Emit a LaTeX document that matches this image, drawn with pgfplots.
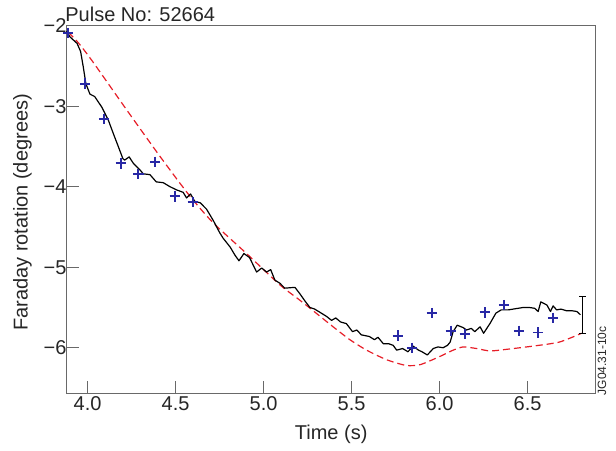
\documentclass[border=0pt]{standalone}
\usepackage{fontspec}
\setmainfont{Liberation Sans}
\usepackage{pgfplots}
\pgfplotsset{compat=1.18}
\definecolor{axgray}{RGB}{105,105,105}
\definecolor{plusblue}{RGB}{40,40,165}
\definecolor{dashred}{RGB}{230,30,40}
\begin{document}
\begin{tikzpicture}
\path[use as bounding box] (-66.7pt,-56.7pt) rectangle (549.3pt,393.3pt);
\begin{axis}[
  at={(0pt,0pt)}, anchor=south west,
  scale only axis, width=529pt, height=367.6pt,
  xmin=3.881, xmax=6.887, ymin=-6.566, ymax=-2,
  xtick={4,4.5,5,5.5,6,6.5},
  xticklabels={4.0,4.5,5.0,5.5,6.0,6.5},
  ytick={-6,-5,-4,-3,-2},
  yticklabels={−6,−5,−4,−3,−2},
  xtick pos=left, ytick pos=left,
  tick align=inside,
  major tick length=12pt,
  axis line style={axgray, line width=1.1pt},
  every tick/.style={axgray, line width=1.1pt},
  tick label style={font=\fontsize{20}{24}\selectfont, text=black!85},
  yticklabel style={xshift=3.3pt},
  label style={font=\fontsize{20}{24}\selectfont, text=black!85},
  xlabel={Time (s)},
  ylabel={Faraday rotation (degrees)},
  xlabel style={at={(axis description cs:0.5,-0.1124)}, anchor=center},
  ylabel style={at={(axis description cs:-0.0834,0.492)}, anchor=center},
  clip=false,
]
% red dashed model
\addplot[dashred, line width=1.2pt, dash pattern=on 7pt off 4pt, smooth, tension=0.4] coordinates {
(3.890,-2.08) (3.950,-2.22) (4.030,-2.45) (4.220,-3.04) (4.410,-3.62) (4.582,-4.12)
(4.714,-4.45) (4.903,-4.83) (5.093,-5.22) (5.200,-5.40) (5.264,-5.51) (5.395,-5.74)
(5.490,-5.90) (5.585,-6.03) (5.700,-6.15) (5.810,-6.22) (5.890,-6.21) (6.000,-6.11)
(6.077,-6.03) (6.134,-5.99) (6.210,-6.01) (6.286,-6.04) (6.380,-6.02) (6.530,-5.98)
(6.680,-5.93) (6.807,-5.82)
};
% black measured
\addplot[black, line width=1.2pt, line join=round] coordinates {
(3.880,-2.07) (3.900,-2.14) (3.940,-2.22) (3.960,-2.32) (3.975,-2.51) (3.990,-2.72)
(4.013,-2.85) (4.040,-2.88) (4.080,-3.01) (4.117,-3.17) (4.146,-3.34) (4.174,-3.50)
(4.200,-3.65) (4.210,-3.67) (4.236,-3.63) (4.260,-3.71) (4.297,-3.79) (4.316,-3.84)
(4.354,-3.85) (4.390,-3.94) (4.430,-3.95) (4.468,-4.00) (4.506,-4.04) (4.543,-4.07)
(4.562,-4.14) (4.585,-4.09) (4.608,-4.18) (4.640,-4.20) (4.676,-4.28) (4.714,-4.42)
(4.750,-4.57) (4.770,-4.64) (4.810,-4.75) (4.837,-4.85) (4.860,-4.92) (4.888,-4.83)
(4.920,-4.88) (4.940,-4.97) (4.960,-5.06) (4.989,-5.01) (5.017,-5.06) (5.040,-5.03)
(5.064,-5.16) (5.093,-5.20) (5.120,-5.26) (5.178,-5.25) (5.206,-5.33) (5.235,-5.42)
(5.263,-5.50) (5.290,-5.52) (5.320,-5.56) (5.357,-5.61) (5.386,-5.66) (5.410,-5.63)
(5.437,-5.68) (5.470,-5.70) (5.505,-5.80) (5.530,-5.78) (5.555,-5.84) (5.600,-5.86)
(5.630,-5.90) (5.650,-5.87) (5.680,-5.95) (5.710,-5.95) (5.736,-5.97) (5.756,-6.03)
(5.790,-6.01) (5.820,-6.05) (5.850,-5.98) (5.880,-6.03) (5.900,-6.05) (5.930,-6.09)
(5.964,-6.01) (5.990,-5.99) (6.020,-6.00) (6.045,-5.97) (6.060,-5.93) (6.077,-5.80)
(6.100,-5.72) (6.134,-5.75) (6.153,-5.78) (6.180,-5.76) (6.200,-5.80) (6.230,-5.74)
(6.250,-5.82) (6.286,-5.70) (6.320,-5.57) (6.350,-5.53) (6.390,-5.53) (6.418,-5.52)
(6.447,-5.51) (6.475,-5.50) (6.510,-5.50) (6.540,-5.51) (6.560,-5.55) (6.575,-5.43)
(6.610,-5.47) (6.630,-5.55) (6.645,-5.48) (6.665,-5.53) (6.690,-5.52) (6.720,-5.54)
(6.750,-5.54) (6.780,-5.55) (6.800,-5.59)
};
% blue crosses
\addplot[only marks, mark=+, mark size=5.2pt, plusblue, mark options={line width=1.8pt, draw=plusblue}] coordinates {
(3.890,-2.09) (3.985,-2.72) (4.094,-3.16) (4.189,-3.71) (4.288,-3.84) (4.384,-3.69)
(4.496,-4.12) (4.597,-4.19) (5.763,-5.85) (5.843,-6.00) (5.956,-5.57) (6.064,-5.79)
(6.144,-5.83) (6.257,-5.56) (6.367,-5.47) (6.451,-5.79) (6.560,-5.81) (6.645,-5.63)
};
% error bar
\addplot[black, line width=1.1pt, mark=-, mark size=3.5pt, mark options={line width=1.1pt}] coordinates {
(6.81,-5.36) (6.81,-5.82)
};
\node[anchor=base west, inner sep=0pt, font=\fontsize{20}{24}\selectfont, text=black!85]
  at (axis description cs:0,1.0109) [xshift=-1.5pt] {Pulse No: 52664};
\node[rotate=90, anchor=center, inner sep=0pt, font=\fontsize{12}{14}\selectfont, text=black!85]
  at (axis description cs:1.012,0.0884) {JG04.31-10c};
\end{axis}
\end{tikzpicture}
\end{document}
